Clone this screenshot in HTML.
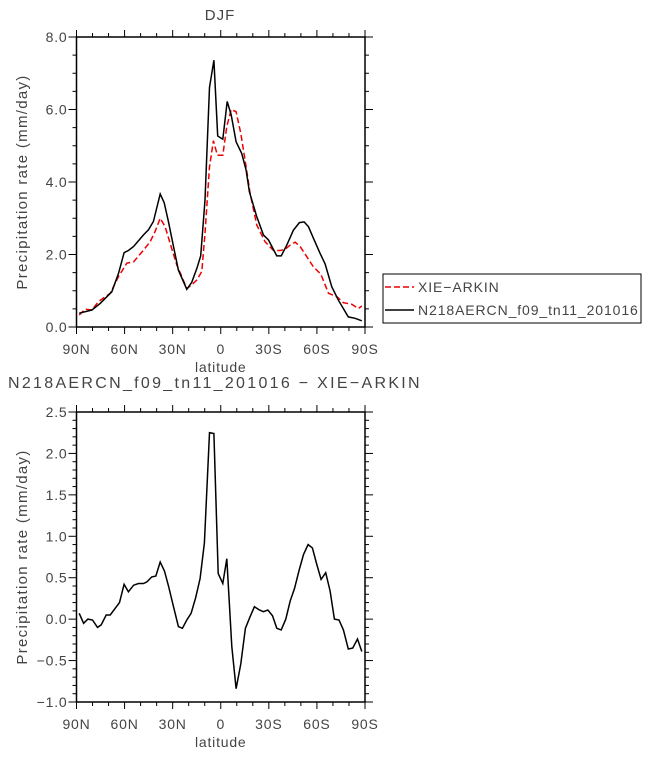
<!DOCTYPE html>
<html><head><meta charset="utf-8"><style>
body{margin:0;background:#fff;}
svg text{font-family:"Liberation Sans",sans-serif;fill:#444;}
</style></head><body>
<svg id="c" width="648" height="754" xmlns="http://www.w3.org/2000/svg"></svg>
<script>
const latTop=[88.3,80.4,75.2,68.0,63.8,60.3,57.6,54.4,48.2,45.1,42.0,37.8,35.3,32.6,29.5,26.4,21.2,18.1,14.9,12.5,9.8,7.0,4.3,1.9,-1.3,-4.0,-6.5,-9.6,-13.1,-15.8,-17.9,-22.5,-26.6,-29.8,-35.0,-37.7,-41.2,-45.3,-49.1,-52.0,-54.7,-57.8,-62.0,-65.1,-69.3,-73.4,-79.6,-83.8,-88.0];
const modelVals=[0.38,0.47,0.65,0.97,1.48,2.05,2.11,2.22,2.54,2.68,2.91,3.67,3.43,2.90,2.22,1.57,1.04,1.23,1.62,1.96,3.50,6.61,7.36,5.27,5.18,6.22,5.85,5.11,4.79,4.33,3.73,3.04,2.54,2.40,1.96,1.96,2.26,2.67,2.88,2.90,2.77,2.45,2.03,1.74,1.11,0.74,0.28,0.24,0.17];
const latObs=[88.3,84.6,80.4,76.3,69.0,63.8,58.6,54.4,48.2,44.1,41.0,37.8,34.7,31.6,27.4,24.3,21.2,18.1,14.9,11.8,9.8,7.0,4.6,2.1,-1.3,-3.8,-6.5,-9.6,-12.5,-15.8,-18.3,-22.5,-27.7,-32.9,-37.0,-40.1,-43.3,-46.4,-49.5,-53.7,-57.8,-62.4,-67.2,-72.4,-76.5,-81.7,-85.9,-88.0];
const obsVals=[0.33,0.49,0.47,0.70,0.93,1.39,1.76,1.80,2.12,2.35,2.63,3.00,2.77,2.31,1.71,1.39,1.06,1.16,1.30,1.53,2.58,4.42,5.14,4.74,4.74,5.53,6.00,5.94,5.34,4.42,3.69,2.81,2.35,2.11,2.11,2.14,2.26,2.34,2.22,1.94,1.66,1.46,0.93,0.84,0.67,0.63,0.51,0.58];
const latDiff=[88.3,85.6,82.9,80.0,76.9,74.6,71.5,69.0,65.9,63.2,60.3,57.6,54.4,51.3,48.2,46.1,43.0,40.5,37.8,35.1,32.6,29.5,26.4,23.9,21.2,18.5,15.6,12.9,10.2,7.0,4.3,1.6,-1.3,-3.8,-6.9,-9.6,-12.5,-15.4,-18.3,-21.0,-24.1,-26.6,-29.4,-32.3,-35.0,-37.7,-40.6,-43.3,-46.0,-48.9,-51.6,-54.5,-57.2,-59.9,-62.6,-65.5,-68.2,-70.9,-73.8,-76.5,-79.6,-82.3,-85.3,-88.0];
const diffVals=[0.07,-0.05,0.00,-0.01,-0.10,-0.07,0.05,0.05,0.13,0.20,0.42,0.33,0.41,0.43,0.43,0.45,0.51,0.52,0.69,0.58,0.40,0.15,-0.09,-0.11,-0.01,0.07,0.26,0.49,0.92,2.25,2.24,0.55,0.43,0.73,-0.33,-0.84,-0.54,-0.11,0.03,0.15,0.11,0.09,0.11,0.04,-0.11,-0.13,0.00,0.22,0.37,0.59,0.78,0.90,0.86,0.66,0.48,0.56,0.34,0.00,-0.01,-0.13,-0.36,-0.35,-0.24,-0.39];
const xTicks=[90,60,30,0,-30,-60,-90];
const xTickLabels=["90N","60N","30N","0","30S","60S","90S"];
const topYTicks=[0,2,4,6,8];
const topYLabels=["0.0","2.0","4.0","6.0","8.0"];
const botYTicks=[-1,-0.5,0,0.5,1,1.5,2,2.5];
const botYLabels=["\u22121.0","\u22120.5","0.0","0.5","1.0","1.5","2.0","2.5"];

const svg=document.getElementById('c');const NS="http://www.w3.org/2000/svg";
function mk(t,a,p){const e=document.createElementNS(NS,t);for(const k in a)e.setAttribute(k,a[k]);(p||svg).appendChild(e);return e;}
const X0=76.5,X1=365;
const xs=l=>X0+(90-l)/180*(X1-X0);

function panel(name,Y0,Y1,ymin,ymax,yt,yl,minorStep){
  const g=mk('g',{});
  
  
  const ys=v=>Y1-(v-ymin)/(ymax-ymin)*(Y1-Y0);
  const fr=mk('rect',{x:X0,y:Y0,width:X1-X0,height:Y1-Y0,fill:'none',stroke:'#000','stroke-width':1.5},g);
  
  
  for(let l=90;l>=-90;l-=10){const maj=l%30===0;const x=xs(l);const L=maj?7:4;
    mk('line',{x1:x,x2:x,y1:Y1,y2:Y1+L,stroke:'#000','stroke-width':1},g);
    mk('line',{x1:x,x2:x,y1:Y0,y2:Y0-L,stroke:'#000','stroke-width':1},g);}
  xTicks.forEach((l,i)=>{const t=mk('text',{x:xs(l),y:Y1+27,'font-size':14,'text-anchor':'middle','letter-spacing':'0.8'},g);t.textContent=xTickLabels[i];
    
    });
  for(let v=ymin;v<=ymax+1e-9;v+=minorStep){const y=ys(v);const maj=yt.some(m=>Math.abs(m-v)<1e-6);const L=maj?8:4;
    mk('line',{x1:X0,x2:X0-L,y1:y,y2:y,stroke:'#000','stroke-width':1},g);
    mk('line',{x1:X1,x2:X1+L,y1:y,y2:y,stroke:'#000','stroke-width':1},g);}
  yt.forEach((v,i)=>{const t=mk('text',{x:X0-9,y:ys(v)+5,'font-size':14,'text-anchor':'end','letter-spacing':'0.8'},g);t.textContent=yl[i];
    
    });
  const xl=mk('text',{x:(X0+X1)/2,y:Y1+45,'font-size':14,'text-anchor':'middle','letter-spacing':'0.8'},g);xl.textContent='latitude';
  
  
  const yc=(Y0+Y1)/2;
  const yla=mk('text',{x:27,y:yc,'font-size':15,'text-anchor':'middle','letter-spacing':'1.3',transform:`rotate(-90 27 ${yc})`},g);yla.textContent='Precipitation rate (mm/day)';
  
  
  return {g,ys};
}
function line(p,lats,vals,stroke,dash,name){
  const d=lats.map((l,i)=>(i?'L':'M')+xs(l).toFixed(1)+','+p.ys(vals[i]).toFixed(1)).join('');
  const e=mk('path',{d,fill:'none',stroke,'stroke-width':1.5,'stroke-dasharray':dash||'none'},p.g);
  
  
}
const topPanel=panel('top-panel',37,327,0,8,topYTicks,topYLabels,0.5);
line(topPanel,latObs,obsVals,'#e00','6,3','xie-arkin-line');
line(topPanel,latTop,modelVals,'#000',null,'model-line');
const t1=mk('text',{x:220,y:20,'font-size':15,'text-anchor':'middle','letter-spacing':'1'});t1.textContent='DJF';



const botPanel=panel('bottom-panel',412,702,-1,2.5,botYTicks,botYLabels,0.1);
line(botPanel,latDiff,diffVals,'#000',null,'difference-line');
const t2=mk('text',{x:8,y:388,'font-size':16,'letter-spacing':'2.3'});t2.textContent='N218AERCN_f09_tn11_201016 \u2212 XIE\u2212ARKIN';



const lg=mk('g',{});


mk('rect',{x:383,y:274,width:258,height:49,fill:'#fff',stroke:'#000','stroke-width':1},lg);
mk('line',{x1:385,x2:414,y1:287,y2:287,stroke:'#e00','stroke-width':1.5,'stroke-dasharray':'6,3'},lg);
const le1=mk('text',{x:418,y:292,'font-size':14,'letter-spacing':'0.9'},lg);le1.textContent='XIE\u2212ARKIN';


mk('line',{x1:385,x2:414,y1:310,y2:310,stroke:'#000','stroke-width':1.5},lg);
const le2=mk('text',{x:418,y:315,'font-size':14,'letter-spacing':'0.9'},lg);le2.textContent='N218AERCN_f09_tn11_201016';


</script>
</body></html>
